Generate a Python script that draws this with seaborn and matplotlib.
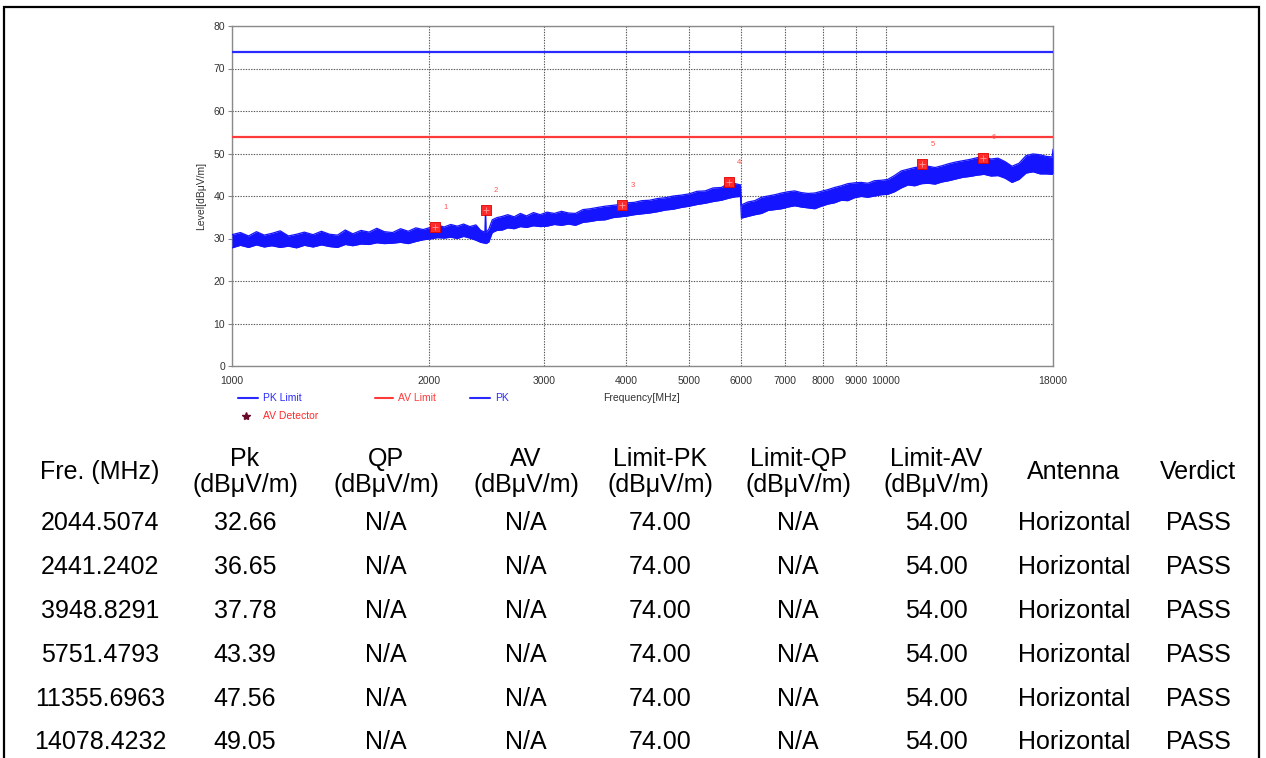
import matplotlib
matplotlib.use("Agg")
import matplotlib.pyplot as plt
import seaborn as sns
from matplotlib.lines import Line2D
from matplotlib.patches import Rectangle
from matplotlib.ticker import NullLocator, FixedLocator, FixedFormatter

# ---------------- data ----------------
trace_freq = [1000, 1030, 1060, 1090, 1120, 1150, 1185, 1220, 1255, 1290, 1330, 1370, 1410, 1450,
              1490, 1530, 1575, 1620, 1665, 1710, 1760, 1810, 1860, 1910, 1960, 2010, 2060, 2110,
              2160, 2210, 2260, 2310, 2360, 2400, 2436, 2441.2, 2446, 2470, 2500, 2540, 2590, 2640,
              2700, 2760, 2820, 2890, 2960, 3030, 3110, 3190, 3270, 3350, 3440, 3530, 3620, 3720,
              3820, 3920, 4020, 4120, 4230, 4350, 4470, 4600, 4730, 4860, 5000, 5140, 5290, 5440,
              5600, 5751.5, 5880, 5990, 6010, 6150, 6300, 6450, 6600, 6760, 6920, 7080, 7250, 7420,
              7600, 7780, 7960, 8150, 8340, 8540, 8740, 8950, 9160, 9380, 9600, 9830, 10060, 10300,
              10550, 10800, 11060, 11330, 11600, 11880, 12170, 12470, 12780, 13100, 13430, 13770,
              14120, 14470, 14830, 15200, 15580, 15970, 16370, 16780, 17200, 17600, 17950, 18000]
trace_lo = [27.8, 28.4, 27.9, 28.5, 28.0, 28.3, 27.9, 28.2, 27.8, 28.4, 28.0, 28.5, 28.1, 27.9,
            28.6, 28.3, 28.7, 28.6, 29.0, 28.8, 28.9, 29.1, 28.8, 29.3, 29.7, 29.9, 30.2, 30.1,
            30.3, 30.0, 30.5, 30.1, 29.6, 29.1, 28.9, 29.5, 28.8, 29.2, 31.4, 31.9, 32.0, 32.5,
            32.3, 32.8, 32.6, 33.0, 32.8, 32.9, 33.3, 33.1, 33.4, 33.1, 33.8, 34.0, 34.3, 34.4,
            34.9, 35.1, 35.3, 35.6, 35.8, 36.0, 36.3, 36.7, 36.9, 37.3, 37.6, 38.0, 38.3, 38.7,
            39.0, 39.5, 39.8, 39.9, 34.8, 35.2, 35.6, 35.9, 36.6, 36.8, 37.0, 37.4, 37.7, 37.4,
            37.2, 37.0, 37.6, 38.1, 38.4, 39.0, 38.9, 39.6, 39.9, 39.7, 40.0, 40.3, 40.4, 41.0,
            41.9, 42.6, 42.4, 42.9, 43.0, 42.8, 43.3, 43.6, 44.0, 44.4, 44.6, 44.9,
            45.1, 44.7, 44.8, 44.2, 43.2, 43.9, 45.4, 45.7, 45.2, 45.2, 45.1, 45.4]
trace_hi = [30.9, 31.4, 30.6, 31.6, 30.8, 31.2, 31.8, 30.6, 31.0, 31.5, 30.9, 31.7, 31.0, 30.8,
            32.0, 31.1, 31.9, 31.5, 32.4, 31.6, 31.4, 32.3, 31.7, 32.5, 32.1, 32.6, 33.2, 32.7,
            33.3, 32.9, 33.4, 32.8, 33.2, 31.9, 31.5, 36.65, 31.4, 32.2, 34.4, 34.9, 35.2, 35.6,
            35.1, 35.9, 35.3, 36.1, 35.6, 36.2, 35.9, 36.4, 36.0, 35.9, 36.8, 37.0, 37.3, 37.6,
            37.8, 38.0, 38.4, 38.5, 38.9, 39.0, 39.4, 39.6, 40.0, 40.2, 40.5, 41.1, 41.2, 41.9,
            42.0, 43.0, 42.9, 42.6, 37.9, 38.6, 38.9, 39.7, 40.0, 40.3, 40.7, 41.0, 41.2, 40.8,
            40.6, 40.7, 41.1, 41.5, 42.0, 42.4, 42.9, 43.1, 43.2, 43.0, 43.6, 43.7, 43.9, 44.8,
            45.9, 46.3, 46.7, 46.9, 47.0, 46.7, 47.1, 47.6, 48.0, 48.3, 48.6, 49.0,
            49.2, 48.7, 48.9, 48.1, 47.0, 47.7, 49.5, 49.9, 49.7, 49.3, 49.2, 51.0]

limit_freq = [1000, 18000]
pk_limit = [74, 74]
av_limit = [54, 54]

marker_freq = [2044.5074, 2441.2402, 3948.8291, 5751.4793, 11355.6963, 14078.4232]
marker_pk = [32.66, 36.65, 37.78, 43.39, 47.56, 49.05]
limit_pk_vals = [74.00] * 6
limit_av_vals = [54.00] * 6
antenna = ["Horizontal"] * 6
verdict = ["PASS"] * 6

xtick_vals = [1000, 2000, 3000, 4000, 5000, 6000, 7000, 8000, 9000, 10000, 18000]
ytick_vals = [0, 10, 20, 30, 40, 50, 60, 70, 80]

headers = ["Fre. (MHz)", "Pk\n(dBμV/m)", "QP\n(dBμV/m)", "AV\n(dBμV/m)", "Limit-PK\n(dBμV/m)",
           "Limit-QP\n(dBμV/m)", "Limit-AV\n(dBμV/m)", "Antenna", "Verdict"]

# ---------------- style ----------------
sns.set_theme(style="white")
plt.rcParams["font.family"] = ["Liberation Sans", "DejaVu Sans"]
CH_FONT = ["Liberation Sans Narrow", "Liberation Sans", "DejaVu Sans"]

W, H = 1266, 758
fig = plt.figure(figsize=(W / 100, H / 100), dpi=100)
fig.patch.set_facecolor("white")

def fx(px):
    return px / W

def fy(py):
    return 1 - py / H

ax = fig.add_axes([fx(232), fy(366), 821 / W, 340 / H])
ax.set_facecolor("white")
ax.set_xscale("log")

BLUE = "#1414ff"
RED = "#ff2a2a"

# grid
ax.grid(True, which="major", axis="both", color="#555555", lw=0.8, ls=(0, (1.2, 1.2)), zorder=0)

# limits
sns.lineplot(x=limit_freq, y=pk_limit, color="#2a2aff", lw=1.6, ax=ax, zorder=3)
sns.lineplot(x=limit_freq, y=av_limit, color="#ff3a3a", lw=1.6, ax=ax, zorder=3)

# PK trace
ax.fill_between(trace_freq, trace_lo, trace_hi, color=BLUE, lw=0, zorder=3)
sns.lineplot(x=trace_freq, y=trace_hi, color=BLUE, lw=0.9, ax=ax, zorder=3)
sns.lineplot(x=trace_freq, y=trace_lo, color=BLUE, lw=0.9, ax=ax, zorder=3)

# detector markers
sns.scatterplot(x=marker_freq, y=marker_pk, marker="s", s=42, color=RED,
                edgecolor="#e00000", linewidth=0.6, ax=ax, zorder=5)
ax.scatter(marker_freq, marker_pk, marker="+", s=16, color="#ff9a9a", lw=0.6, zorder=6)
for i, (f, v) in enumerate(zip(marker_freq, marker_pk)):
    ax.annotate(str(i + 1), (f, v), xytext=(6, 13), textcoords="offset points",
                fontsize=5.5, color="#ff5050", family=CH_FONT)

ax.set_xlim(1000, 18000)
ax.set_ylim(0, 80)
ax.xaxis.set_major_locator(FixedLocator(xtick_vals))
ax.xaxis.set_major_formatter(FixedFormatter([str(v) for v in xtick_vals]))
ax.xaxis.set_minor_locator(NullLocator())
ax.set_yticks(ytick_vals)
ax.set_yticklabels([str(v) for v in ytick_vals])
for lab in ax.get_xticklabels() + ax.get_yticklabels():
    lab.set_family(CH_FONT)
    lab.set_fontsize(7.5)
    lab.set_color("#333333")
ax.tick_params(axis="x", length=0, pad=7)
ax.tick_params(axis="y", length=3, width=0.8, color="#888888", pad=2, left=True)
for sp in ax.spines.values():
    sp.set_color("#8a8a8a")
    sp.set_linewidth(1.0)
ax.set_xlabel("")
ax.set_ylabel("Level[dBμV/m]", fontsize=7.5, color="#333333", labelpad=5, family=CH_FONT)

fig.text(fx(642), fy(398), "Frequency[MHz]", ha="center", va="center", fontsize=7.5,
         color="#333333", family=CH_FONT)

# legend (manual)
leg_items = [(238, 258, 398, "#2a2aff", "PK Limit"),
             (375, 393, 398, "#ff3a3a", "AV Limit"),
             (470, 490, 398, "#2a2aff", "PK")]
for x0, x1, yy, c, t in leg_items:
    fig.add_artist(Line2D([fx(x0), fx(x1)], [fy(yy), fy(yy)], color=c, lw=1.5,
                          transform=fig.transFigure))
    fig.text(fx(x1 + 5), fy(yy), t, ha="left", va="center", fontsize=7.5, color=c, family=CH_FONT)
fig.add_artist(Line2D([fx(246)], [fy(416)], marker="*", ms=6, color="#6a0a2a",
                      transform=fig.transFigure, ls="none"))
fig.text(fx(263), fy(416), "AV Detector", ha="left", va="center", fontsize=7.5,
         color="#ff2a2a", family=CH_FONT)

# table
col_x = [100, 245, 386, 526, 660, 798, 936, 1074, 1198]
row_y = [523, 567, 611, 655, 699, 742]
TFS = 18
for cx, h in zip(col_x, headers):
    fig.text(fx(cx), fy(472), h, ha="center", va="center", fontsize=TFS,
             color="black", linespacing=1.08, multialignment="center")
for r, ry in enumerate(row_y):
    vals = [f"{marker_freq[r]:.4f}", f"{marker_pk[r]:.2f}", "N/A", "N/A",
            f"{limit_pk_vals[r]:.2f}", "N/A", f"{limit_av_vals[r]:.2f}", antenna[r], verdict[r]]
    for cx, v in zip(col_x, vals):
        fig.text(fx(cx), fy(ry), v, ha="center", va="center", fontsize=TFS, color="black")

# outer border
fig.add_artist(Rectangle((fx(4), -0.05), fx(1259) - fx(4), fy(7) + 0.05, fill=False,
                         edgecolor="black", lw=1.6, transform=fig.transFigure, clip_on=False))

fig.savefig("out.png", dpi=100, facecolor="white")
